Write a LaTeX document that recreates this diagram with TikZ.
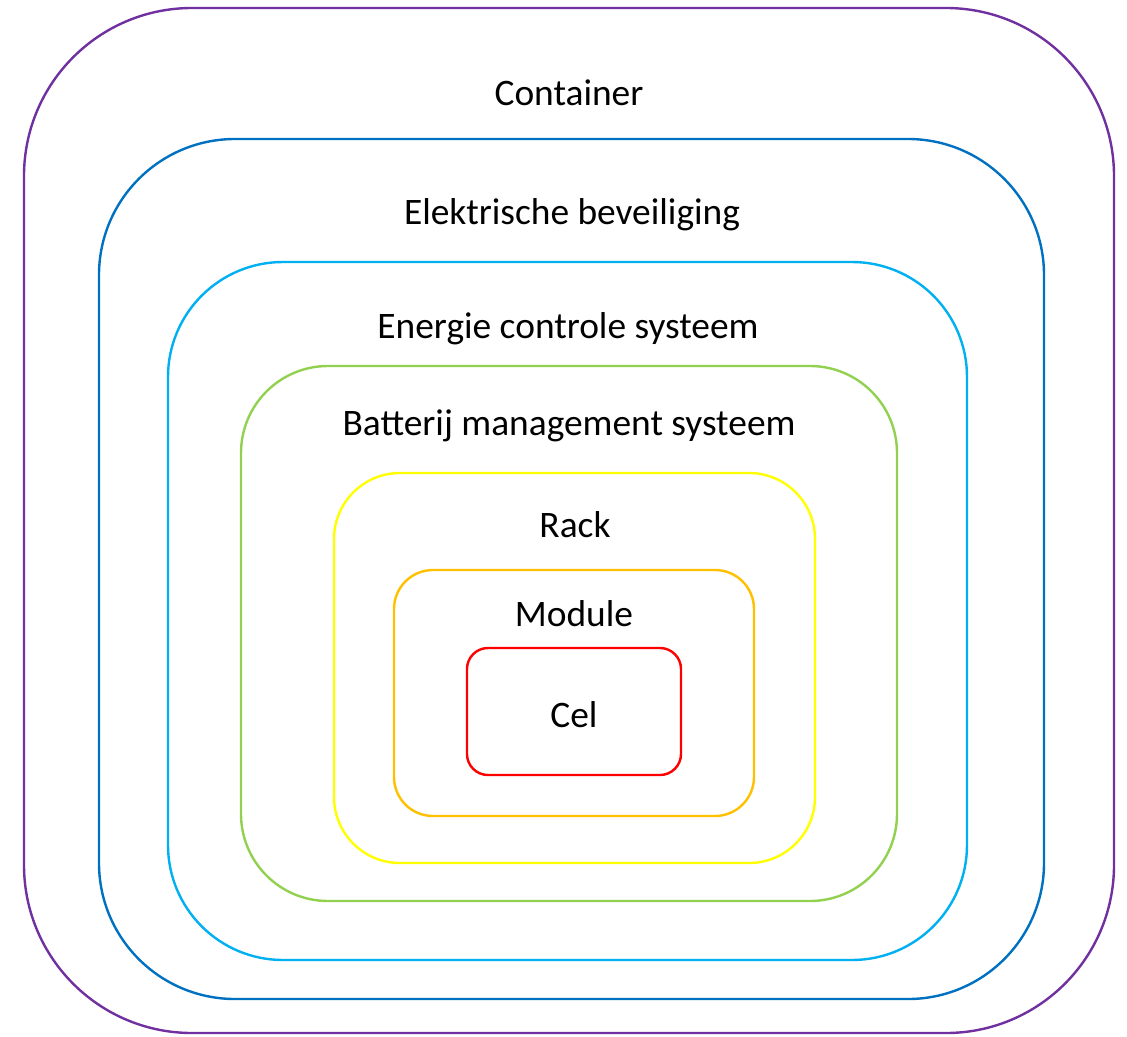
\documentclass[tikz,border=0pt]{standalone}
\usepackage{fontspec}
\setmainfont{Carlito}
\definecolor{cpurple}{HTML}{7030A0}
\definecolor{cdblue}{HTML}{0070C0}
\definecolor{clblue}{HTML}{00B0F0}
\definecolor{cgreen}{HTML}{92D050}
\definecolor{cyellow}{HTML}{FFFF00}
\definecolor{corange}{HTML}{FFC000}
\definecolor{cred}{HTML}{FF0000}
\begin{document}
\begin{tikzpicture}[x=1pt,y=-1pt,
  layer/.style={line width=2.4pt},
  lbl/.style={font=\fontsize{37.4}{44}\selectfont, inner sep=0pt}]
\useasboundingbox (0,0) rectangle (1127,1036);
\draw[layer,cpurple,rounded corners=168pt] (24,8) rectangle (1114,1033);
\draw[layer,cdblue,rounded corners=136pt] (99,139) rectangle (1044,999);
\draw[layer,clblue,rounded corners=115pt] (168,262) rectangle (967,960);
\draw[layer,cgreen,rounded corners=87pt] (241,366) rectangle (897,901);
\draw[layer,cyellow,rounded corners=66pt] (334,473) rectangle (815,863);
\draw[layer,corange,rounded corners=39pt] (394,570) rectangle (754,816);
\draw[layer,cred,rounded corners=21pt] (467,648) rectangle (681,775);
\node[lbl] (container) at (569,93) {Container};
\node[lbl] (elek) at (572,215) {Elektrische beveiliging};
\node[lbl] (energie) at (568,329) {Energie controle systeem};
\node[lbl] (bms) at (569,426) {Batterij management systeem};
\node[lbl] (rack) at (575,525) {Rack};
\node[lbl] (module) at (574,614) {Module};
\node[lbl] (cel) at (574,715) {Cel};
\end{tikzpicture}
\end{document}
